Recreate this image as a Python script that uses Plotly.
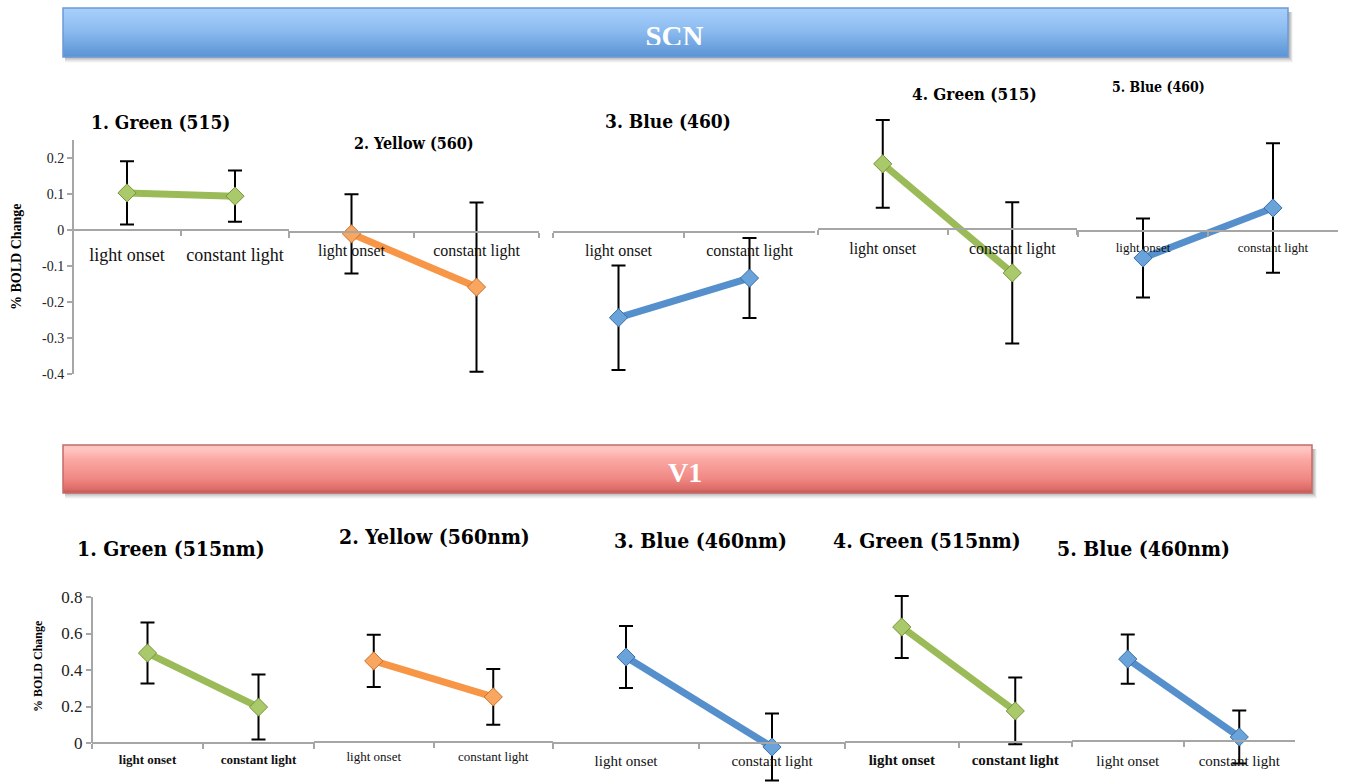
import plotly.graph_objects as go

W, H = 1347, 783

# ---- data -------------------------------------------------------------
categories = ["light onset", "constant light"]

scn_titles = ["1. Green (515)", "2. Yellow (560)", "3. Blue (460)",
              "4. Green (515)", "5. Blue (460)"]
scn_means = [[0.103, 0.094], [-0.005, -0.153], [-0.238, -0.128],
             [0.181, -0.122], [-0.075, 0.064]]
scn_sem = [[0.088, 0.071], [0.110, 0.235], [0.145, 0.111],
           [0.122, 0.196], [0.110, 0.180]]

v1_titles = ["1. Green (515nm)", "2. Yellow (560nm)", "3. Blue (460nm)",
             "4. Green (515nm)", "5. Blue (460nm)"]
v1_means = [[0.493, 0.197], [0.444, 0.247], [0.471, -0.022],
            [0.630, 0.170], [0.449, 0.022]]
v1_sem = [[0.167, 0.178], [0.143, 0.153], [0.170, 0.183],
          [0.170, 0.183], [0.135, 0.145]]

scn_yticks = [0.2, 0.1, 0, -0.1, -0.2, -0.3, -0.4]
scn_yticktext = ["0.2", "0.1", "0", "-0.1", "-0.2", "-0.3", "-0.4"]
v1_yticks = [0, 0.2, 0.4, 0.6, 0.8]
v1_yticktext = ["0", "0.2", "0.4", "0.6", "0.8"]

# ---- styling ----------------------------------------------------------
TITLE_FONT = "DejaVu Serif Condensed, Liberation Serif, serif"
SERIF = "Liberation Serif, serif"
AXIS_GREY = "#a6a6a6"

palette = {
    "green": dict(line="#9bbb59", fill="#a9c96a", edge="#77953a"),
    "orange": dict(line="#f79646", fill="#f9a660", edge="#c8702a"),
    "blue": dict(line="#5590cc", fill="#6aa2da", edge="#3a6ea8"),
}
panel_colors = ["green", "orange", "blue", "green", "blue"]


def xp(px):
    return px / W


def yp(py):
    return 1 - py / H


# panel geometry in pixels: left, right, zero line
scn_geom = [(73, 289, 230), (289, 539, 232), (553, 815, 232),
            (818, 1077, 229), (1078, 1338, 231)]
v1_geom = [(92, 314, 743), (314, 553, 742), (553, 845, 743),
           (845, 1072, 742), (1072, 1295, 741)]
SCN_PPU, V1_PPU = 360.0, 182.5          # pixels per % BOLD unit
SCN_TOP, SCN_BOT = 100, 400
V1_TOP, V1_BOT = 585, 783

# category label font (size, bold, offset below axis)
scn_lab = [(18, False, 25), (16, False, 20), (16, False, 20),
           (16, False, 21), (13, False, 18)]
v1_lab = [(13, True, 18), (13, False, 17), (15, False, 19),
          (15, True, 20), (15, False, 21)]

# title placement: centre x, centre y, size
scn_tpos = [(160, 122, 19), (414, 143, 16), (668, 121, 19),
            (974, 94, 17), (1158, 87, 14)]
v1_tpos = [(171, 548, 21), (434, 536, 21), (700, 540, 21),
           (927, 540, 21), (1143, 548, 21)]

fig = go.Figure()
layout = {}
annotations = []
shapes = []


def add_panel(idx, geom, ppu, top, bot, means, sem, color, lab, first,
              yticks=None, yticktext=None, yline=None, ytickfont=14):
    left, right, zero = geom
    sfx = "" if idx == 1 else str(idx)
    c = palette[color]
    fig.add_trace(go.Scatter(
        x=categories, y=means, mode="lines+markers",
        xaxis="x" + sfx, yaxis="y" + sfx,
        line=dict(color=c["line"], width=7),
        marker=dict(symbol="diamond", size=14, color=c["fill"],
                    line=dict(color=c["edge"], width=1)),
        error_y=dict(type="data", array=sem, color="black",
                     thickness=2, width=7),
        cliponaxis=False, showlegend=False, hoverinfo="skip"))
    hi = (zero - top) / ppu
    lo = -(bot - zero) / ppu
    size, bold, delta = lab
    standoff = int(round(max(0, delta - 5 - 3 - size / 2)))
    layout["xaxis" + sfx] = dict(
        domain=[xp(left), xp(right)], type="category",
        categoryorder="array", categoryarray=categories,
        range=[-0.5, 1.5], anchor="free", position=yp(zero),
        showline=True, linecolor=AXIS_GREY, linewidth=2,
        ticks="outside", tickson="boundaries", ticklen=5,
        tickcolor=AXIS_GREY, tickwidth=2, showgrid=False, zeroline=False,
        ticklabelstandoff=standoff,
        tickfont=dict(family=SERIF, size=size, color="#111",
                      weight="bold" if bold else "normal"))
    yax = dict(domain=[yp(bot), yp(top)], range=[lo, hi],
               anchor="x" + sfx, showgrid=False, zeroline=False,
               showline=False)
    if first:
        yax.update(tickmode="array", tickvals=yticks, ticktext=yticktext,
                   ticks="outside", ticklen=5, tickcolor=AXIS_GREY,
                   tickwidth=1.5,
                   tickfont=dict(family=SERIF, size=ytickfont, color="#222"))
        shapes.append(dict(type="line", xref="x" + sfx + " domain",
                           yref="y" + sfx, x0=0, x1=0,
                           y0=yline[0], y1=yline[1],
                           line=dict(color=AXIS_GREY, width=2)))
    else:
        yax.update(visible=False)
    layout["yaxis" + sfx] = yax


for i in range(5):
    add_panel(i + 1, scn_geom[i], SCN_PPU, SCN_TOP, SCN_BOT,
              scn_means[i], scn_sem[i], panel_colors[i], scn_lab[i],
              i == 0, scn_yticks, scn_yticktext, (-0.4, 0.25), 14)
    cx, cy, fs = scn_tpos[i]
    annotations.append(dict(x=xp(cx), y=yp(cy), xref="paper", yref="paper",
                            text="<b>%s</b>" % scn_titles[i], showarrow=False,
                            xanchor="center", yanchor="middle",
                            font=dict(family=TITLE_FONT, size=fs, color="black")))

for i in range(5):
    add_panel(i + 6, v1_geom[i], V1_PPU, V1_TOP, V1_BOT,
              v1_means[i], v1_sem[i], panel_colors[i], v1_lab[i],
              i == 0, v1_yticks, v1_yticktext, (0, 0.8), 17)
    cx, cy, fs = v1_tpos[i]
    annotations.append(dict(x=xp(cx), y=yp(cy), xref="paper", yref="paper",
                            text="<b>%s</b>" % v1_titles[i], showarrow=False,
                            xanchor="center", yanchor="middle",
                            font=dict(family=TITLE_FONT, size=fs, color="black")))

# y-axis titles
annotations.append(dict(x=xp(17), y=yp(257), xref="paper", yref="paper",
                        text="<b>% BOLD Change</b>", textangle=-90,
                        showarrow=False, xanchor="center", yanchor="middle",
                        font=dict(family=SERIF, size=14, color="black")))
annotations.append(dict(x=xp(38), y=yp(666), xref="paper", yref="paper",
                        text="<b>% BOLD Change</b>", textangle=-90,
                        showarrow=False, xanchor="center", yanchor="middle",
                        font=dict(family=SERIF, size=12, color="black")))


# ---- section banners --------------------------------------------------
def hex2rgb(h):
    h = h.lstrip("#")
    return tuple(int(h[k:k + 2], 16) for k in (0, 2, 4))


def lerp_stops(stops, t):
    for (t0, c0), (t1, c1) in zip(stops, stops[1:]):
        if t0 <= t <= t1:
            f = 0 if t1 == t0 else (t - t0) / (t1 - t0)
            a, b = hex2rgb(c0), hex2rgb(c1)
            return "rgb(%d,%d,%d)" % tuple(round(a[k] + (b[k] - a[k]) * f)
                                            for k in range(3))
    return stops[-1][1]


def banner(x0, x1, y0, y1, stops, border):
    # soft drop shadow
    for k, op in enumerate([0.10, 0.10, 0.09, 0.07, 0.05, 0.03]):
        shapes.append(dict(type="rect", xref="paper", yref="paper", layer="below",
                           x0=xp(x0 + 2), x1=xp(x1 + 2 + k * 0.6),
                           y0=yp(y1 + 1 + k), y1=yp(y0 + 4),
                           fillcolor="#444444", opacity=op, line_width=0))
    n = int(y1 - y0)
    for k in range(n):
        t = (k + 0.5) / n
        shapes.append(dict(type="rect", xref="paper", yref="paper", layer="below",
                           x0=xp(x0), x1=xp(x1), y0=yp(y0 + k + 1), y1=yp(y0 + k),
                           fillcolor=lerp_stops(stops, t), line_width=0))
    shapes.append(dict(type="rect", xref="paper", yref="paper", layer="below",
                       x0=xp(x0), x1=xp(x1), y0=yp(y1), y1=yp(y0),
                       fillcolor="rgba(0,0,0,0)",
                       line=dict(color=border, width=1.5)))


banner(63, 1288, 8, 57,
       [(0, "#a9cffc"), (0.45, "#8dbcf0"), (1, "#5a93d4")], "#6b9bd6")
banner(63, 1312, 445, 493,
       [(0, "#f3c4c2"), (0.08, "#ffc6c2"), (0.3, "#fba8a4"), (0.7, "#f08884"),
        (0.92, "#dc6b67"), (1, "#bf5753")], "#c66a66")

# SCN label, clipped at its lower edge by its own subplot
fig.add_trace(go.Scatter(x=[(674.5 - 63) / (1288 - 63)], y=[(45 - 39) / (45 - 8)],
                         xaxis="x11", yaxis="y11", mode="text", text=["<b>SCN</b>"],
                         textposition="middle center",
                         textfont=dict(family=SERIF, size=29, color="white"),
                         showlegend=False, hoverinfo="skip", cliponaxis=True))
layout["xaxis11"] = dict(domain=[xp(63), xp(1288)], range=[0, 1], visible=False)
layout["yaxis11"] = dict(domain=[yp(45), yp(8)], range=[0, 1], visible=False,
                         anchor="x11")

annotations.append(dict(x=xp(685), y=yp(473), xref="paper", yref="paper",
                        text="<b>V1</b>", showarrow=False,
                        xanchor="center", yanchor="middle",
                        font=dict(family=SERIF, size=28, color="white")))

fig.update_layout(**layout)
fig.update_layout(width=W, height=H, margin=dict(l=0, r=0, t=0, b=0),
                  paper_bgcolor="white", plot_bgcolor="rgba(0,0,0,0)",
                  annotations=annotations, shapes=shapes, showlegend=False)

fig.write_html("out.html")
